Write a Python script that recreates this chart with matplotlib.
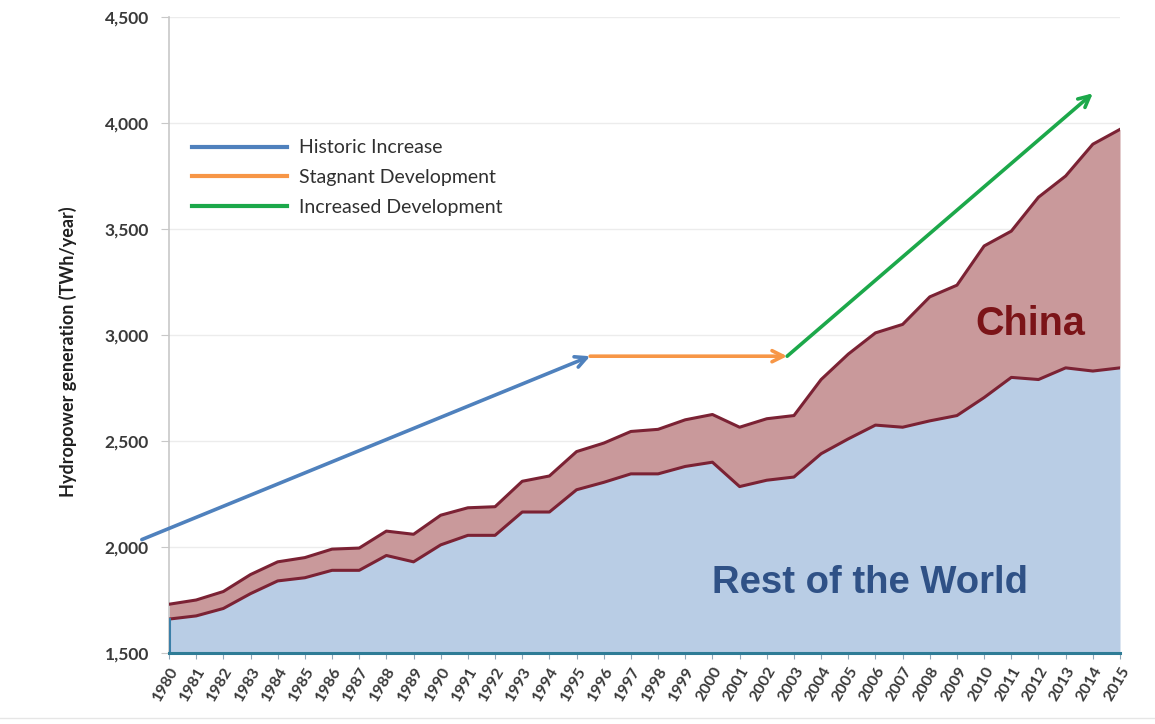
import matplotlib
matplotlib.use("Agg")
import matplotlib.pyplot as plt
from matplotlib.lines import Line2D

# Hydropower generation, TWh/year
years = list(range(1980, 2016))
rest_of_world = [1660, 1675, 1710, 1780, 1840, 1855, 1890, 1890, 1960, 1930,
                 2010, 2055, 2055, 2165, 2165, 2270, 2305, 2345, 2345, 2380,
                 2400, 2285, 2315, 2330, 2440, 2510, 2575, 2565, 2595, 2620,
                 2705, 2800, 2790, 2845, 2830, 2845]
world_total = [1730, 1750, 1790, 1870, 1930, 1950, 1990, 1995, 2075, 2060,
               2150, 2185, 2190, 2310, 2335, 2450, 2490, 2545, 2555, 2600,
               2625, 2565, 2605, 2620, 2790, 2910, 3010, 3050, 3180, 3235,
               3420, 3490, 3650, 3750, 3900, 3970]

# Trend arrows: (x0, y0) -> (x1, y1)
trend_names = ["Historic Increase", "Stagnant Development", "Increased Development"]
trend_colors = ["#4f81bd", "#f79646", "#1ca84a"]
trend_start = [(1979.0, 2035), (1995.5, 2900), (2002.75, 2900)]
trend_end = [(1995.5, 2900), (2002.75, 2900), (2014.0, 4140)]

y_ticks = [1500, 2000, 2500, 3000, 3500, 4000, 4500]

plt.rcParams["font.family"] = ["Lato", "DejaVu Sans"]

fig = plt.figure(figsize=(11.55, 7.24), dpi=100)
ax = fig.add_axes([169 / 1155, 1 - 653 / 724, (1120 - 169) / 1155, (653 - 17) / 724])

row_fill = "#b9cde5"
china_fill = "#c9999b"
edge_red = "#7b2234"

ax.fill_between(years, 1500, rest_of_world, color=row_fill, lw=0, zorder=2)
ax.fill_between(years, rest_of_world, world_total, color=china_fill, lw=0, zorder=2)
ax.plot(years, world_total, color=edge_red, lw=2.2, zorder=3, solid_joinstyle="round")
ax.plot(years, rest_of_world, color=edge_red, lw=2.2, zorder=3, solid_joinstyle="round")
ax.plot([years[0], years[0]], [1500, rest_of_world[0]], color="#3b7fa8", lw=2.2, zorder=3)

ax.set_xlim(1980, 2015)
ax.set_ylim(1500, 4500)
ax.set_yticks(y_ticks)
ax.set_yticklabels([f"{v:,}" for v in y_ticks])
ax.set_xticks(years)
ax.set_xticklabels([str(y) for y in years], rotation=60, ha="right",
                   rotation_mode="anchor")

for v in y_ticks[1:]:
    ax.axhline(v, color="#ececec", lw=1.0, zorder=1)

for s in ["top", "right"]:
    ax.spines[s].set_visible(False)
ax.spines["left"].set_color("#c8c8c8")
ax.spines["left"].set_linewidth(1.2)
ax.spines["bottom"].set_color("#2e7c96")
ax.spines["bottom"].set_linewidth(2.2)
ax.spines["bottom"].set_zorder(4)

ax.tick_params(axis="y", length=6, color="#c8c8c8", labelsize=12.5,
               labelcolor="#3a3a3a", pad=8.5)
ax.tick_params(axis="x", length=4, color="#8fa7b8", labelsize=11.5,
               labelcolor="#3a3a3a", pad=4)
for lbl in ax.get_yticklabels() + ax.get_xticklabels():
    lbl.set_fontweight("bold")

ax.set_ylabel("Hydropower generation (TWh/year)", fontsize=13, fontweight="bold",
              color="#202020")
ax.yaxis.set_label_coords(-0.097, 0.473)

for (x0, y0), (x1, y1), c in zip(trend_start, trend_end, trend_colors):
    ax.annotate("", xy=(x1, y1), xytext=(x0, y0), annotation_clip=False,
                arrowprops=dict(arrowstyle="->,head_length=0.8,head_width=0.4",
                                color=c, lw=2.6, shrinkA=0, shrinkB=0),
                zorder=5)

handles = [Line2D([0], [0], color=c, lw=3) for c in trend_colors]
leg = ax.legend(handles, trend_names, loc="upper left",
                bbox_to_anchor=(0.006, 0.835), frameon=False, fontsize=14,
                handlelength=4.9, handletextpad=0.6, labelspacing=0.65)
for t in leg.get_texts():
    t.set_color("#303030")

ax.text(2011.7, 3050, "China", fontsize=28.5, fontweight="bold", color="#7b1418",
        ha="center", va="center", family=["Liberation Sans", "DejaVu Sans"], zorder=6)
ax.text(2005.8, 1830, "Rest of the World", fontsize=27.5, fontweight="bold",
        color="#2f5186", ha="center", va="center",
        family=["Liberation Sans", "DejaVu Sans"], zorder=6)

# faint separator line along the bottom of the figure
fig.add_artist(Line2D([0.0, 1.0], [1 - 718 / 724, 1 - 718 / 724],
                      color="#e6e6e6", lw=1.0))

fig.savefig("out.png", dpi=100)
